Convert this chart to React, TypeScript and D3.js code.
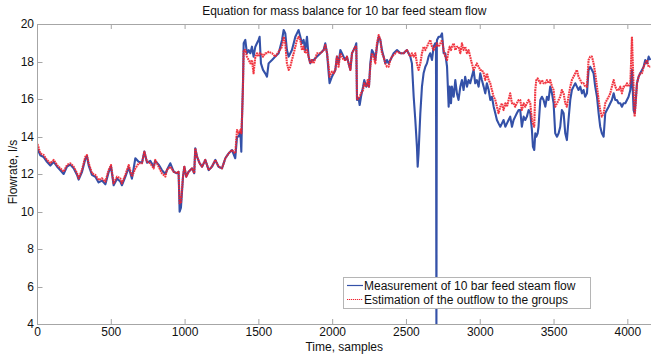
import React from "react";
import * as d3 from "d3";

// ---- data ----
const sampleIdx = [
  0, 19, 42, 64, 87, 110, 132, 155, 177, 200, 222, 245, 268, 279, 301, 324, 335, 347, 369, 392,
  414, 437, 460, 482, 498, 516, 539, 561, 572, 595, 618, 640, 663, 685, 708, 724, 742, 764, 787, 798,
  821, 843, 866, 877, 900, 923, 945, 956, 963, 972, 986, 995, 1008, 1024, 1047, 1062, 1069, 1081, 1099, 1115,
  1137, 1160, 1182, 1205, 1227, 1250, 1273, 1295, 1318, 1340, 1352, 1363, 1375, 1381, 1386, 1392, 1397, 1408, 1419, 1431,
  1442, 1453, 1464, 1476, 1487, 1498, 1505, 1514, 1528, 1543, 1555, 1566, 1589, 1611, 1634, 1657, 1668, 1679, 1690, 1702,
  1713, 1724, 1736, 1747, 1758, 1769, 1781, 1792, 1803, 1814, 1826, 1837, 1848, 1860, 1871, 1894, 1917, 1939, 1950, 1962,
  1973, 1979, 1995, 2007, 2018, 2029, 2040, 2052, 2063, 2074, 2086, 2097, 2108, 2120, 2131, 2142, 2153, 2160, 2165, 2176,
  2183, 2192, 2206, 2214, 2228, 2237, 2246, 2255, 2266, 2278, 2289, 2300, 2312, 2323, 2334, 2345, 2357, 2368, 2379, 2391,
  2402, 2413, 2436, 2459, 2481, 2503, 2526, 2537, 2549, 2560, 2571, 2576, 2582, 2594, 2605, 2616, 2628, 2639, 2650, 2661,
  2673, 2684, 2695, 2700, 2703, 2706, 2707, 2718, 2730, 2741, 2752, 2763, 2775, 2786, 2793, 2802, 2808, 2820, 2831, 2842,
  2853, 2865, 2876, 2887, 2898, 2910, 2921, 2932, 2943, 2955, 2966, 2977, 2989, 3000, 3011, 3023, 3034, 3045, 3057, 3068,
  3079, 3091, 3102, 3113, 3124, 3136, 3147, 3158, 3170, 3181, 3192, 3203, 3215, 3226, 3237, 3248, 3260, 3271, 3282, 3294,
  3305, 3316, 3328, 3339, 3350, 3357, 3366, 3373, 3380, 3389, 3395, 3407, 3418, 3429, 3441, 3452, 3463, 3474, 3486, 3497,
  3508, 3520, 3531, 3542, 3553, 3565, 3576, 3587, 3598, 3610, 3621, 3632, 3644, 3655, 3666, 3678, 3689, 3700, 3711, 3723,
  3734, 3745, 3757, 3768, 3779, 3791, 3802, 3813, 3824, 3836, 3847, 3858, 3870, 3881, 3892, 3904, 3915, 3926, 3937, 3949,
  3960, 3971, 3983, 3994, 4005, 4017, 4028, 4039, 4046, 4052, 4062, 4073, 4084, 4096, 4107, 4118, 4130, 4141, 4152,
];

const measurement = [
  13.35, 13.0, 12.9, 12.65, 12.45, 12.65, 12.4, 12.2, 12.0, 12.4, 12.5, 12.3, 11.95, 11.7, 12.1, 12.8, 12.95, 12.45, 11.95, 11.85,
  11.55, 11.65, 11.45, 12.1, 12.4, 11.4, 11.75, 11.6, 11.4, 11.85, 12.35, 11.75, 12.84, 12.65, 12.6, 13.2, 12.6, 12.7, 12.4, 12.7,
  12.5, 12.21, 12.0, 12.21, 12.57, 12.12, 12.04, 12.12, 9.99, 10.2, 11.86, 12.39, 11.86, 12.12, 12.3, 12.04, 13.37, 12.92, 12.57, 12.39,
  12.75, 12.21, 12.39, 12.75, 12.39, 12.3, 12.84, 13.1, 13.28, 12.84, 13.99, 14.0, 14.2, 13.19, 15.06, 16.66, 18.97, 19.15, 18.44, 18.61,
  18.44, 18.79, 18.26, 18.79, 18.97, 19.15, 19.32, 17.9, 17.55, 17.37, 17.19, 17.9, 18.08, 18.26, 18.44, 19.15, 19.68, 19.5, 18.61, 18.26,
  18.44, 18.61, 18.97, 19.32, 19.5, 19.68, 19.32, 18.97, 19.15, 18.61, 19.32, 18.26, 17.9, 18.08, 18.08, 18.26, 18.44, 18.61, 18.97, 18.44,
  17.37, 16.84, 17.19, 17.37, 17.55, 18.26, 17.9, 18.61, 18.44, 18.26, 18.08, 18.26, 17.9, 17.55, 18.44, 18.61, 18.79, 18.97, 15.95, 16.04,
  15.68, 16.12, 16.66, 17.01, 16.66, 16.84, 16.66, 17.9, 18.61, 18.44, 18.08, 18.79, 19.32, 19.15, 18.61, 18.26, 17.9, 18.08, 17.9, 18.08,
  18.26, 18.44, 18.61, 18.44, 18.44, 18.61, 18.26, 17.9, 16.12, 14.88, 13.46, 12.39, 13.1, 15.24, 16.66, 17.37, 17.72, 17.9, 18.26, 18.44,
  18.08, 18.79, 18.97, 18.9, 3.8, 19.0, 19.15, 19.32, 19.32, 19.5, 18.44, 18.44, 17.72, 15.59, 16.66, 15.77, 16.66, 16.12, 17.01, 16.3,
  15.95, 16.66, 17.01, 16.48, 17.19, 16.66, 17.01, 16.84, 17.19, 17.55, 16.84, 17.01, 16.66, 17.37, 17.01, 16.66, 16.3, 16.84, 16.48, 15.95,
  16.12, 15.59, 15.24, 14.88, 14.7, 14.52, 14.7, 14.88, 14.52, 14.7, 14.88, 15.06, 14.52, 14.88, 15.06, 15.24, 15.41, 15.41, 14.52, 15.06,
  14.88, 15.06, 15.41, 15.24, 14.35, 13.46, 13.28, 14.17, 13.99, 14.17, 14.52, 15.95, 16.12, 15.95, 15.59, 16.12, 15.95, 16.66, 16.3, 15.77,
  14.17, 13.99, 14.17, 14.52, 15.41, 15.24, 14.17, 13.81, 14.88, 15.95, 16.48, 16.66, 16.84, 16.66, 16.48, 16.66, 16.3, 16.48, 16.12, 16.3,
  17.55, 17.72, 17.55, 17.37, 16.66, 16.12, 15.24, 14.52, 14.17, 13.99, 15.24, 15.41, 15.59, 15.77, 15.95, 16.3, 15.95, 15.95, 15.77, 15.77,
  15.59, 15.77, 15.77, 15.95, 16.12, 16.48, 17.55, 15.41, 15.24, 15.77, 16.84, 17.19, 17.37, 17.55, 17.72, 18.08, 17.9, 18.26, 18.08,
];

const estimation = [
  13.6, 13.1, 13.01, 12.75, 12.57, 12.75, 12.48, 12.3, 12.12, 12.48, 12.57, 12.39, 12.04, 11.77, 12.21, 12.92, 13.01, 12.57, 12.04, 11.95,
  11.68, 11.77, 11.59, 12.21, 12.48, 11.5, 11.86, 11.77, 11.5, 11.95, 12.48, 11.86, 12.3, 12.57, 12.57, 13.19, 12.66, 12.57, 12.3, 12.75,
  12.39, 12.04, 11.86, 12.21, 12.39, 12.12, 12.04, 12.12, 10.44, 10.44, 11.86, 12.39, 11.86, 12.12, 12.3, 12.04, 13.37, 12.92, 12.57, 12.39,
  12.75, 12.21, 12.39, 12.75, 12.39, 12.3, 12.84, 13.1, 13.28, 13.1, 14.35, 14.17, 14.35, 14.17, 15.06, 16.66, 18.61, 18.61, 18.26, 18.08,
  17.9, 18.08, 17.37, 18.26, 18.44, 18.26, 18.44, 18.44, 18.26, 18.44, 18.44, 18.52, 18.44, 18.26, 18.52, 18.79, 19.32, 18.97, 17.9, 17.55,
  17.72, 18.08, 18.44, 18.79, 19.15, 19.32, 19.15, 18.61, 18.79, 18.44, 18.61, 18.26, 17.9, 18.08, 17.9, 18.44, 18.44, 18.61, 18.88, 18.44,
  17.72, 17.19, 17.46, 17.37, 17.55, 18.26, 17.72, 18.44, 18.26, 18.08, 18.08, 18.26, 17.9, 17.55, 18.44, 18.61, 18.79, 18.79, 15.95, 16.04,
  16.12, 16.3, 16.48, 16.84, 16.66, 17.01, 16.66, 17.72, 18.44, 18.26, 17.9, 18.97, 19.41, 19.15, 18.44, 18.26, 17.9, 17.72, 17.72, 18.08,
  18.26, 18.35, 18.52, 18.44, 18.44, 18.61, 18.26, 18.44, 18.26, 18.44, 17.9, 17.72, 17.55, 17.9, 18.44, 18.79, 18.61, 18.79, 18.97, 19.15,
  18.79, 18.61, 18.79, 18.8, 18.85, 18.9, 18.97, 18.79, 18.97, 19.15, 18.61, 18.26, 18.08, 18.61, 18.79, 18.61, 18.79, 18.97, 18.61, 18.79,
  18.79, 18.44, 18.97, 18.61, 18.79, 18.44, 18.61, 18.26, 17.9, 17.55, 17.72, 17.9, 17.72, 17.55, 17.55, 17.37, 17.01, 17.37, 17.01, 16.84,
  16.48, 16.12, 15.95, 15.59, 15.24, 15.59, 15.77, 15.41, 15.77, 15.59, 15.95, 16.3, 15.77, 15.77, 15.59, 15.77, 15.95, 15.95, 15.41, 15.77,
  15.59, 15.77, 15.95, 15.77, 14.88, 14.7, 14.52, 16.48, 17.01, 17.1, 17.01, 16.84, 17.01, 16.84, 16.84, 17.01, 16.84, 17.01, 16.66, 16.48,
  15.59, 15.77, 15.95, 16.12, 16.48, 16.3, 15.77, 15.59, 16.12, 16.66, 17.01, 17.19, 17.37, 17.55, 17.19, 17.01, 16.84, 16.84, 16.66, 16.66,
  18.08, 18.26, 18.26, 17.9, 17.37, 16.66, 15.95, 15.41, 15.06, 15.24, 15.77, 15.95, 16.12, 16.3, 16.66, 17.01, 16.66, 16.48, 16.48, 16.66,
  16.3, 16.66, 16.66, 16.84, 16.66, 16.84, 19.32, 16.66, 15.06, 15.59, 16.84, 17.19, 17.37, 17.37, 17.72, 17.9, 18.08, 17.72, 17.72,
];

const xTicks = [0, 500, 1000, 1500, 2000, 2500, 3000, 3500, 4000];
const yTicks = [4, 6, 8, 10, 12, 14, 16, 18, 20];
const titleText = "Equation for mass balance for 10 bar feed steam flow";
const xLabel = "Time, samples";
const yLabel = "Flowrate, l/s";
const seriesNames = ["Measurement of 10 bar feed steam flow", "Estimation of the outflow to the groups"];

export default function App() {
  const W = 651;
  const H = 355;
  const left = 37.5;
  const right = 651;
  const top = 24;
  const bottom = 324;
  const x = d3.scaleLinear().domain([0, 4157]).range([left, right]);
  const y = d3.scaleLinear().domain([4, 20]).range([bottom, top]);
  const line = d3
    .line<number>()
    .x((_, i) => x(sampleIdx[i]))
    .y((d) => y(d));

  const font = "'Liberation Sans', Arial, sans-serif";
  const axisColor = "#a6a6a6";
  const blue = "#3451a8";
  const red = "#f0212e";

  const lgX = 343;
  const lgY = 277;

  return (
    <svg
      width={W}
      height={H}
      style={{ position: "absolute", left: 0, top: 0, background: "#fff" }}
      fontFamily={font}
    >
      <defs>
        <clipPath id="plotClip">
          <rect x={left} y={top} width={right - left} height={bottom - top} />
        </clipPath>
      </defs>
      <rect x={0} y={0} width={W} height={H} fill="#fff" />
      {/* series */}
      <g clipPath="url(#plotClip)">
        <path d={line(measurement) || ""} fill="none" stroke={blue} strokeWidth={2.1} strokeLinejoin="round" />
        <path
          d={line(estimation) || ""}
          fill="none"
          stroke={red}
          strokeWidth={2.1}
          strokeDasharray="1.8 0.7"
          strokeLinejoin="round"
          strokeOpacity={0.9}
        />
      </g>
      {/* axes box */}
      <line x1={left} x2={right} y1={top + 0.5} y2={top + 0.5} stroke={axisColor} strokeWidth={1} />
      <line x1={left} x2={right} y1={bottom + 0.5} y2={bottom + 0.5} stroke={axisColor} strokeWidth={1} />
      <line x1={left} x2={left} y1={top} y2={bottom + 1} stroke={axisColor} strokeWidth={1} />
      {/* x ticks */}
      {xTicks.map((t) => (
        <g key={"x" + t}>
          <line x1={x(t)} x2={x(t)} y1={bottom} y2={bottom - 5} stroke={axisColor} />
          <line x1={x(t)} x2={x(t)} y1={top} y2={top + 5} stroke={axisColor} />
          <text x={x(t)} y={336} textAnchor="middle" fontSize={12} fill="#111">
            {t}
          </text>
        </g>
      ))}
      {/* y ticks */}
      {yTicks.map((t) => (
        <g key={"y" + t}>
          <line x1={left} x2={left + 5} y1={Math.round(y(t)) + 0.5} y2={Math.round(y(t)) + 0.5} stroke={axisColor} />
          <text x={34} y={y(t)} dy="0.35em" textAnchor="end" fontSize={12} fill="#111">
            {t}
          </text>
        </g>
      ))}
      {/* labels */}
      <text x={(left + right) / 2} y={14.5} textAnchor="middle" fontSize={12} fill="#111">
        {titleText}
      </text>
      <text x={(left + right) / 2} y={351} textAnchor="middle" fontSize={12} fill="#111">
        {xLabel}
      </text>
      <text
        transform={`translate(16.5, 172) rotate(-90)`}
        textAnchor="middle"
        fontSize={12}
        fill="#111"
      >
        {yLabel}
      </text>
      {/* legend */}
      <g>
        <rect x={lgX + 0.5} y={lgY + 0.5} width={247} height={31} fill="#fff" stroke="#b5b5b5" />
        <line x1={lgX + 4} x2={lgX + 20} y1={lgY + 8.5} y2={lgY + 8.5} stroke={blue} strokeWidth={1.2} />
        <text x={lgX + 21} y={lgY + 8.5} dy="0.35em" fontSize={12} fill="#111">
          {seriesNames[0]}
        </text>
        <line
          x1={lgX + 4}
          x2={lgX + 20}
          y1={lgY + 22.5}
          y2={lgY + 22.5}
          stroke={red}
          strokeWidth={1.2}
          strokeDasharray="1.2 0.8"
        />
        <text x={lgX + 21} y={lgY + 22.5} dy="0.35em" fontSize={12} fill="#111">
          {seriesNames[1]}
        </text>
      </g>
    </svg>
  );
}
